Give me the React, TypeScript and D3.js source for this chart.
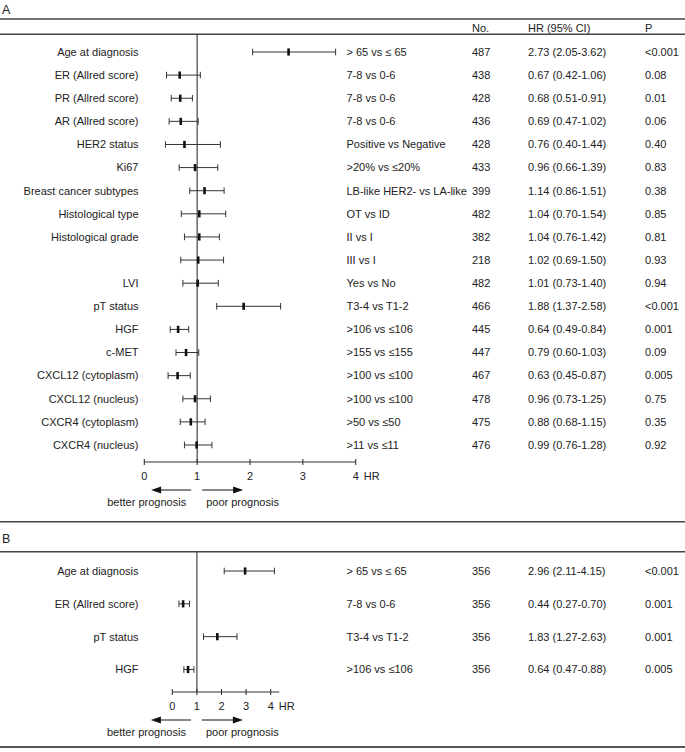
import React from "react";
import * as d3 from "d3";

// ---------- Data ----------
const labelsA = [
  "Age at diagnosis", "ER (Allred score)", "PR (Allred score)", "AR (Allred score)",
  "HER2 status", "Ki67", "Breast cancer subtypes", "Histological type", "Histological grade",
  "", "LVI", "pT status", "HGF", "c-MET", "CXCL12 (cytoplasm)", "CXCL12 (nucleus)",
  "CXCR4 (cytoplasm)", "CXCR4 (nucleus)",
];
const comparisonsA = [
  "> 65 vs \u2264 65", "7-8 vs 0-6", "7-8 vs 0-6", "7-8 vs 0-6", "Positive vs Negative",
  ">20% vs \u226420%", "LB-like HER2- vs LA-like", "OT vs ID", "II vs I", "III vs I",
  "Yes vs No", "T3-4 vs T1-2", ">106 vs \u2264106", ">155 vs \u2264155", ">100 vs \u2264100",
  ">100 vs \u2264100", ">50 vs \u226450", ">11 vs \u226411",
];
const nA = [487, 438, 428, 436, 428, 433, 399, 482, 382, 218, 482, 466, 445, 447, 467, 478, 475, 476];
const hrA = [2.73, 0.67, 0.68, 0.69, 0.76, 0.96, 1.14, 1.04, 1.04, 1.02, 1.01, 1.88, 0.64, 0.79, 0.63, 0.96, 0.88, 0.99];
const lowA = [2.05, 0.42, 0.51, 0.47, 0.40, 0.66, 0.86, 0.70, 0.76, 0.69, 0.73, 1.37, 0.49, 0.60, 0.45, 0.73, 0.68, 0.76];
const highA = [3.62, 1.06, 0.91, 1.02, 1.44, 1.39, 1.51, 1.54, 1.42, 1.50, 1.40, 2.58, 0.84, 1.03, 0.87, 1.25, 1.15, 1.28];
const pA = ["<0.001", "0.08", "0.01", "0.06", "0.40", "0.83", "0.38", "0.85", "0.81", "0.93", "0.94", "<0.001", "0.001", "0.09", "0.005", "0.75", "0.35", "0.92"];

const labelsB = ["Age at diagnosis", "ER (Allred score)", "pT status", "HGF"];
const comparisonsB = ["> 65 vs \u2264 65", "7-8 vs 0-6", "T3-4 vs T1-2", ">106 vs \u2264106"];
const nB = [356, 356, 356, 356];
const hrB = [2.96, 0.44, 1.83, 0.64];
const lowB = [2.11, 0.27, 1.27, 0.47];
const highB = [4.15, 0.70, 2.63, 0.88];
const pB = ["<0.001", "0.001", "0.001", "0.005"];

const tickValues = [0, 1, 2, 3, 4];
const headers = ["No.", "HR (95% CI)", "P"];

// ---------- Layout ----------
const W = 685;
const H = 752;
const FONT = "'Liberation Sans', Arial, Helvetica, sans-serif";
const TXT = "#222";
const LINE = "#333";
const fmt = d3.format(".2f");

const colLabel = 138.5;
const colComp = 346.5;
const colN = 472;
const colHR = 528;
const colP = 645;

type PanelProps = {
  labels: string[]; comps: string[]; n: number[]; hr: number[]; lo: number[]; hi: number[]; p: string[];
  x: d3.ScaleLinear<number, number>; y: d3.ScalePoint<string>;
  lineTop: number; axisY: number; axisEnd: number;
};

function Panel({ labels, comps, n, hr, lo, hi, p, x, y, lineTop, axisY, axisEnd }: PanelProps) {
  const ids = labels.map((_, i) => String(i));
  const x1 = x(1);
  const capH = 3.3;
  const ptH = 3.6;
  return (
    <g>
      {/* reference line at HR = 1 */}
      <line x1={x1} x2={x1} y1={lineTop} y2={axisY} stroke={LINE} strokeWidth={1.1} />
      {ids.map((id, i) => {
        const cy = y(id)!;
        return (
          <g key={id}>
            <text x={colLabel} y={cy} dy="0.35em" textAnchor="end">{labels[i]}</text>
            <line x1={x(lo[i])} x2={x(hi[i])} y1={cy} y2={cy} stroke={LINE} strokeWidth={1} />
            <line x1={x(lo[i])} x2={x(lo[i])} y1={cy - capH} y2={cy + capH} stroke={LINE} strokeWidth={1} />
            <line x1={x(hi[i])} x2={x(hi[i])} y1={cy - capH} y2={cy + capH} stroke={LINE} strokeWidth={1} />
            <line x1={x(hr[i])} x2={x(hr[i])} y1={cy - ptH} y2={cy + ptH} stroke="#111" strokeWidth={2.6} />
            <text x={colComp} y={cy} dy="0.35em">{comps[i]}</text>
            <text x={colN} y={cy} dy="0.35em">{n[i]}</text>
            <text x={colHR} y={cy} dy="0.35em">{`${fmt(hr[i])} (${fmt(lo[i])}-${fmt(hi[i])})`}</text>
            <text x={colP} y={cy} dy="0.35em">{p[i]}</text>
          </g>
        );
      })}
      {/* axis */}
      <line x1={x(0)} x2={x(axisEnd)} y1={axisY} y2={axisY} stroke={LINE} strokeWidth={1.1} />
      {tickValues.map((t) => (
        <g key={t}>
          <line x1={x(t)} x2={x(t)} y1={axisY - 3} y2={axisY + 3} stroke={LINE} strokeWidth={1.1} />
          <text x={x(t)} y={axisY + 18} textAnchor="middle">{t}</text>
        </g>
      ))}
      <text x={x(4) + 8} y={axisY + 18}>HR</text>
      {/* arrows */}
      <g>
        <line x1={x1 - 6} x2={x1 - 38} y1={axisY + 28} y2={axisY + 28} stroke="#111" strokeWidth={1.1} />
        <path d={`M${x1 - 46},${axisY + 28} L${x1 - 36},${axisY + 24.5} L${x1 - 36},${axisY + 31.5} Z`} fill="#111" />
        <line x1={x1 + 5} x2={x1 + 37} y1={axisY + 28} y2={axisY + 28} stroke="#111" strokeWidth={1.1} />
        <path d={`M${x1 + 46},${axisY + 28} L${x1 + 36},${axisY + 24.5} L${x1 + 36},${axisY + 31.5} Z`} fill="#111" />
        <text x={x1 - 11} y={axisY + 44} textAnchor="end">better prognosis</text>
        <text x={x1 + 9} y={axisY + 44}>poor prognosis</text>
      </g>
    </g>
  );
}

export default function App() {
  const xA = d3.scaleLinear().domain([0, 4]).range([144.3, 355.7]);
  const yA = d3.scalePoint<string>().domain(labelsA.map((_, i) => String(i))).range([52, 445]);
  const xB = d3.scaleLinear().domain([0, 4]).range([172.3, 270.7]);
  const yB = d3.scalePoint<string>().domain(labelsB.map((_, i) => String(i))).range([571, 669.5]);

  return (
    <svg width={W} height={H} style={{ position: "absolute", left: 0, top: 0, background: "#fff" }}
      fontFamily={FONT} fontSize={11} fill={TXT}>
      <rect x={0} y={0} width={W} height={H} fill="#fff" />
      {/* Panel A header */}
      <text x={2} y={13.5} fontSize={12.5}>A</text>
      <line x1={0} x2={W} y1={19} y2={19} stroke="#444" strokeWidth={1.5} />
      {headers.map((h, i) => (
        <text key={h} x={[colN, colHR, colP][i]} y={31.5}>{h}</text>
      ))}
      <line x1={0} x2={W} y1={34.3} y2={34.3} stroke="#444" strokeWidth={1.5} />
      <Panel labels={labelsA} comps={comparisonsA} n={nA} hr={hrA} lo={lowA} hi={highA} p={pA}
        x={xA} y={yA} lineTop={34.3} axisY={462} axisEnd={4} />
      {/* Panel B */}
      <line x1={0} x2={W} y1={521.7} y2={521.7} stroke="#444" strokeWidth={1.5} />
      <text x={2} y={542.5} fontSize={12.5}>B</text>
      <line x1={0} x2={W} y1={551.7} y2={551.7} stroke="#444" strokeWidth={1.5} />
      <Panel labels={labelsB} comps={comparisonsB} n={nB} hr={hrB} lo={lowB} hi={highB} p={pB}
        x={xB} y={yB} lineTop={551.7} axisY={692} axisEnd={4.35} />
      <line x1={0} x2={W} y1={747} y2={747} stroke="#555" strokeWidth={2} />
    </svg>
  );
}
